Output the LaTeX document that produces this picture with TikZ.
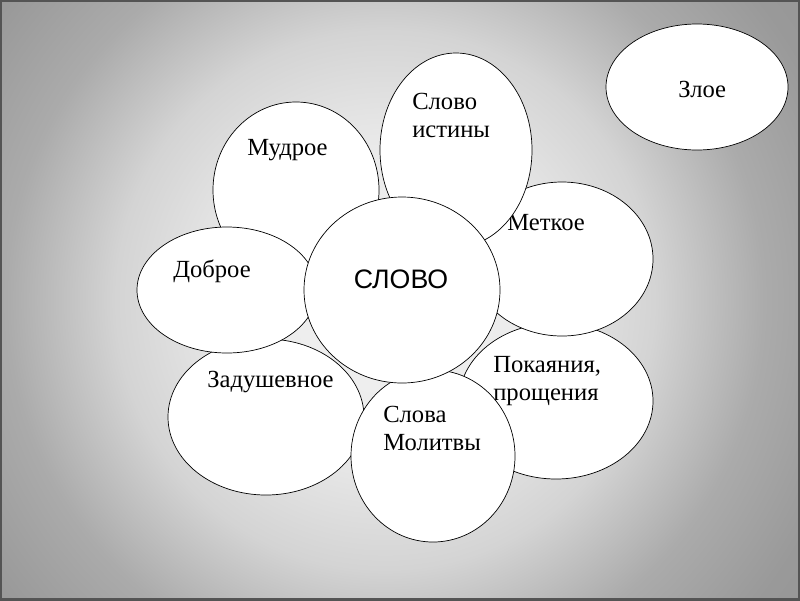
\documentclass[tikz,border=0pt]{standalone}
\usepackage{fontspec}
\setmainfont{Liberation Serif}
\newfontfamily\slovofont{Liberation Sans}
\usetikzlibrary{positioning}
\definecolor{bgA}{gray}{0.95}
\definecolor{bgB}{gray}{0.92}
\definecolor{bgC}{gray}{0.83}
\definecolor{bgD}{gray}{0.67}
\definecolor{bgE}{gray}{0.60}
\definecolor{bgF}{gray}{0.58}
\definecolor{framegray}{gray}{0.33}
\pgfdeclareradialshading{bgglow}{\pgfpoint{0bp}{0bp}}{color(0bp)=(bgA); color(6.25bp)=(bgB); color(11.25bp)=(bgC); color(15.8bp)=(bgD); color(20bp)=(bgE); color(25bp)=(bgF); color(50bp)=(bgF)}

\begin{document}
\begin{tikzpicture}[x=0.025cm, y=-0.025cm,
    petal/.style={draw=black, line width=0.5pt, fill=white},
    word/.style={font=\fontsize{17.5}{20}\selectfont, inner sep=0pt, anchor=base west},
    words/.style={font=\fontsize{17.5}{20}\selectfont, inner sep=0pt, anchor=north west, align=left}]
    \useasboundingbox (0,0) rectangle (800,600);
    \begin{scope}
        \clip (0,0) rectangle (800,600);
        \shade[shading=bgglow] (385,300) circle (600);
    \end{scope}
    \draw[line width=3pt, framegray] (0,0) rectangle (800,600);

    \draw[petal] (556,401) ellipse (97 and 78);
    \node[words] (pokayanie) at (493,356) {Покаяния,\\прощения};
    \draw[petal] (266,417) ellipse (98 and 78);
    \node[word] (zadushevnoe) at (207,387) {Задушевное};
    \draw[petal] (433,456) ellipse (82 and 86);
    \node[words] (molitvy) at (383,406) {Слова\\Молитвы};
    \draw[petal] (562,259) ellipse (91 and 77);
    \node[word] (metkoe) at (507,230) {Меткое};
    \draw[petal] (456,150) ellipse (76 and 97);
    \node[words] (istiny) at (412,93) {Слово\\истины};
    \draw[petal] (296,190) ellipse (83 and 88);
    \node[word] (mudroe) at (247,155) {Мудрое};
    \draw[petal] (227,290) ellipse (90 and 63);
    \node[word] (dobroe) at (173,277) {Доброе};
    \draw[petal] (402,290) ellipse (98 and 93);
    \node[font=\slovofont\fontsize{19}{22}\selectfont, inner sep=0pt, anchor=base] (slovo) at (401,288) {СЛОВО};

    \draw[petal] (697,87) ellipse (91 and 63);
    \node[word] (zloe) at (678,97) {Злое};
\end{tikzpicture}
\end{document}
